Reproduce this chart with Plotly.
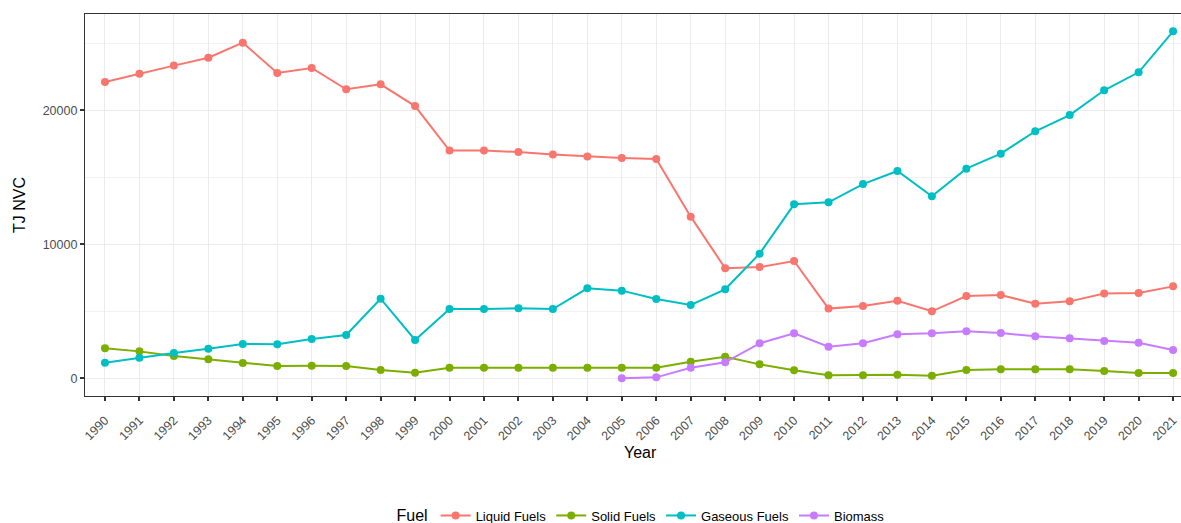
import plotly.graph_objects as go

years = list(range(1990, 2022))
liquid = [22100, 22730, 23330, 23920, 25040, 22780, 23150, 21560, 21930, 20310,
          16990, 16990, 16880, 16690, 16540, 16440, 16360, 12060, 8210, 8300,
          8750, 5200, 5390, 5790, 5000, 6140, 6210, 5570, 5740, 6320, 6360, 6860]
solid = [2240, 2010, 1660, 1420, 1140, 920, 940, 920, 620, 420,
         790, 790, 790, 790, 790, 790, 790, 1240, 1610, 1040,
         600, 220, 220, 270, 190, 620, 670, 670, 670, 540, 400, 400]
gaseous = [1160, 1540, 1890, 2210, 2560, 2540, 2930, 3230, 5940, 2860,
           5170, 5170, 5220, 5170, 6710, 6540, 5920, 5470, 6640, 9300,
           12980, 13130, 14490, 15470, 13580, 15640, 16760, 18430, 19640, 21490, 22830, 25890]
bio_years = list(range(2005, 2022))
biomass = [0, 70, 790, 1190, 2610, 3360, 2360, 2610, 3280, 3360, 3510, 3380, 3130, 2980, 2780, 2660, 2110]

series = [
    ("Liquid Fuels", years, liquid, "#F8766D"),
    ("Solid Fuels", years, solid, "#7CAE00"),
    ("Gaseous Fuels", years, gaseous, "#00BFC4"),
    ("Biomass", bio_years, biomass, "#C77CFF"),
]

fig = go.Figure()
for name, xs, ys, col in series:
    fig.add_trace(go.Scatter(x=xs, y=ys, name=name, mode="lines+markers",
                             line=dict(color=col, width=2),
                             marker=dict(color=col, size=8)))

W, H = 1181, 523
L, R, T, B = 85, 0, 14, 127
plot_h = H - T - B
plot_w = W - L - R

font = "Liberation Sans, Arial, sans-serif"
fig.update_layout(
    width=W, height=H,
    margin=dict(l=L, r=R, t=T, b=B, autoexpand=False),
    paper_bgcolor="white", plot_bgcolor="white",
    font=dict(family=font, size=12.5, color="#4D4D4D"),
    showlegend=True,
    legend=dict(orientation="h", x=(642 - L) / plot_w, xanchor="center",
                y=-(516 - (T + plot_h)) / plot_h, yanchor="middle",
                title=dict(text="Fuel", font=dict(size=16, color="black")),
                font=dict(size=13, color="black"),
                itemwidth=30),
)
fig.update_xaxes(
    range=[1989.42, 2021.23],
    tickmode="array", tickvals=years, ticktext=[str(y) for y in years],
    tickangle=-45, tickfont=dict(size=12.5, color="#4D4D4D"),
    ticks="outside", ticklen=4, tickcolor="#333333", tickwidth=1.5,
    ticklabelstandoff=7,
    showgrid=True, gridcolor="#EBEBEB", gridwidth=1.4,
    showline=True, linecolor="#333333", linewidth=1.2, mirror=True,
    zeroline=False, automargin=False,
)
fig.update_yaxes(
    range=[-1320, 27180],
    tickmode="array", tickvals=[0, 10000, 20000],
    ticktext=["0", "10000", "20000"],
    tickfont=dict(size=12.5, color="#4D4D4D"),
    ticks="outside", ticklen=4, tickcolor="#333333", tickwidth=1.5,
    showgrid=True, gridcolor="#EBEBEB", gridwidth=1.4,
    minor=dict(tickvals=[5000, 15000, 25000], showgrid=True,
               gridcolor="#F2F2F2", gridwidth=1, ticks=""),
    showline=True, linecolor="#333333", linewidth=1.2, mirror=False,
    zeroline=False, automargin=False,
)
fig.add_annotation(text="Year", xref="paper", yref="paper", x=(640 - L) / plot_w,
                   y=-(452 - (T + plot_h)) / plot_h, xanchor="center", yanchor="middle",
                   showarrow=False, font=dict(size=16, color="black"))
fig.add_annotation(text="TJ NVC", xref="paper", yref="paper", x=-(L - 19) / plot_w,
                   y=(T + plot_h - 205) / plot_h, xanchor="center", yanchor="middle",
                   textangle=-90, showarrow=False, font=dict(size=16, color="black"))

fig.write_html("out.html", config={"displayModeBar": False},
               post_script="document.body.style.margin='0';document.body.style.overflow='hidden';")
